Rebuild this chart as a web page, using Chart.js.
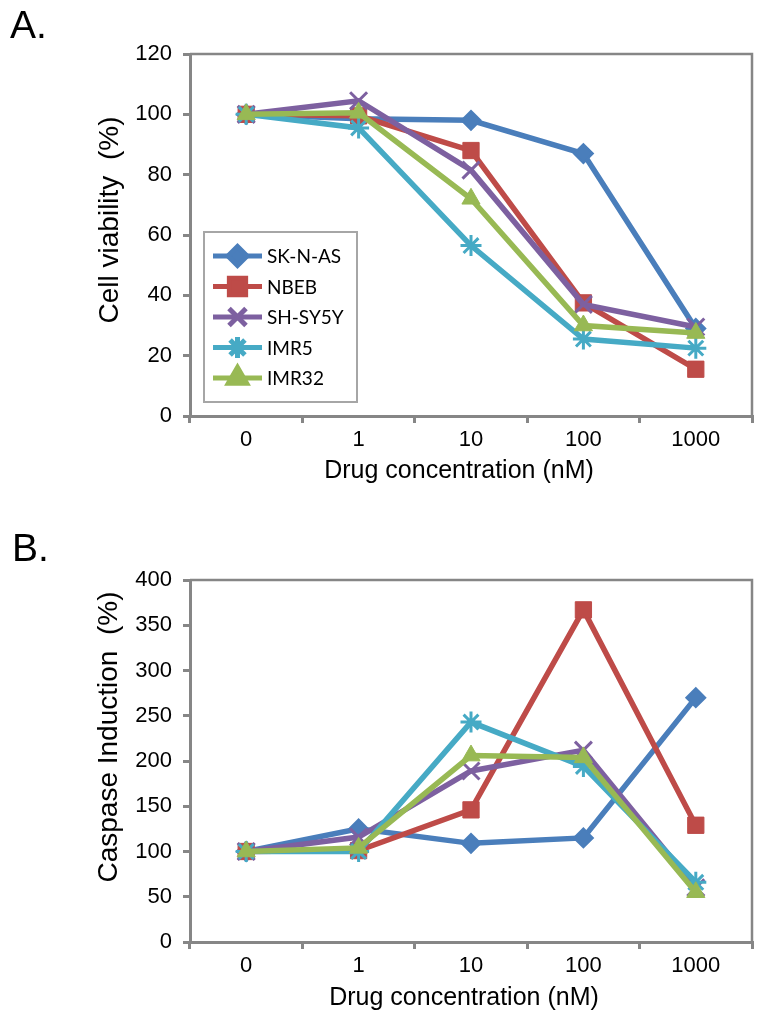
<!DOCTYPE html>
<html>
<head>
<meta charset="utf-8">
<script src="https://cdn.jsdelivr.net/npm/chart.js@4/dist/chart.umd.min.js"></script>
<style>
  body { margin: 0; background: #fff; width: 764px; height: 1021px; overflow: hidden; }
  .panel { position: absolute; left: 0; width: 764px; }
</style>
</head>
<body>
<div class="panel" style="top:0;height:490px"><canvas id="chartA" width="764" height="490"></canvas></div>
<div class="panel" style="top:490px;height:531px"><canvas id="chartB" width="764" height="531"></canvas></div>
<script>
// categories and series
const concentrations = ['0', '1', '10', '100', '1000'];
const cellLines = ['SK-N-AS', 'NBEB', 'SH-SY5Y', 'IMR5', 'IMR32'];

// A. cell viability (%)
const viabilitySKNAS = [100, 98.5, 98, 87, 29];
const viabilityNBEB = [100, 99.5, 88, 37.5, 15.5];
const viabilitySHSY5Y = [100, 104.5, 81.5, 37, 29.5];
const viabilityIMR5 = [100, 95.5, 56.5, 25.5, 22.5];
const viabilityIMR32 = [100, 100.5, 72, 30, 27.5];

// B. caspase induction (%)
const caspaseSKNAS = [100, 125, 109, 115, 270];
const caspaseNBEB = [100, 101, 146, 367, 129];
const caspaseSHSY5Y = [100, 116, 189, 212, 60];
const caspaseIMR5 = [100, 100, 243, 194, 66];
const caspaseIMR32 = [100, 104, 206, 204, 55];

const viabilityTicks = { min: 0, max: 120, step: 20 };
const caspaseTicks = { min: 0, max: 400, step: 50 };

// styling
const lineColors = ['#4A7EBB', '#BE4B48', '#7D60A0', '#46AAC5', '#98B954'];
const markerStyles = ['rectRot', 'rect', 'crossRot', 'star', 'triangle'];
const markerRadius = [9.5, 11.5, 12, 10.5, 10.5];
const markerBorder = [2, 1, 3, 3, 1];
const axisGray = '#868686';
const fontFamily = '"Liberation Sans", Arial, sans-serif';

function makeDatasets(series) {
    return cellLines.map((name, i) => ({
        label: name,
        data: series[i],
        borderColor: lineColors[i],
        backgroundColor: lineColors[i],
        borderWidth: 5.5,
        pointStyle: markerStyles[i],
        pointRadius: markerRadius[i],
        pointBorderWidth: markerBorder[i],
        pointBackgroundColor: lineColors[i],
        pointBorderColor: lineColors[i],
        tension: 0,
        order: cellLines.length - 1 - i   // later series drawn on top, like Excel
    }));
}

function drawMarker(ctx, style, radius, bw, x, y) {
    if (Chart.helpers && Chart.helpers.drawPoint) {
        Chart.helpers.drawPoint(ctx, { pointStyle: style, radius: radius, borderWidth: bw, rotation: 0 }, x, y);
    }
}

// frame, extra texts and the inset legend
const panelDecor = {
    id: 'panelDecor',
    beforeDatasetsDraw(chart, args, opts) {
        const a = chart.chartArea;
        const ctx = chart.ctx;
        ctx.save();
        ctx.strokeStyle = axisGray;
        ctx.lineWidth = 2.5;
        ctx.beginPath();
        ctx.moveTo(a.left, a.top);
        ctx.lineTo(a.right, a.top);
        ctx.lineTo(a.right, a.bottom);
        ctx.stroke();
        ctx.restore();
    },
    afterDraw(chart, args, opts) {
        const ctx = chart.ctx;
        ctx.save();
        ctx.fillStyle = '#000';
        ctx.textBaseline = 'alphabetic';

        const l = opts.letter;
        ctx.font = '39px ' + fontFamily;
        ctx.textAlign = 'left';
        ctx.fillText(l.text, l.x, l.y);

        const xt = opts.xTitle;
        ctx.font = '25px ' + fontFamily;
        ctx.textAlign = 'center';
        ctx.fillText(xt.text, xt.x, xt.y);

        const yt = opts.yTitle;
        ctx.save();
        ctx.translate(yt.x, yt.y);
        ctx.rotate(-Math.PI / 2);
        ctx.font = '28px ' + fontFamily;
        ctx.textAlign = 'center';
        ctx.fillText(yt.text, 0, 0);
        ctx.restore();

        const lg = opts.legend;
        if (lg) {
            ctx.fillStyle = '#fff';
            ctx.fillRect(lg.left, lg.top, lg.right - lg.left, lg.bottom - lg.top);
            ctx.strokeStyle = '#A6A6A6';
            ctx.lineWidth = 2;
            ctx.strokeRect(lg.left, lg.top, lg.right - lg.left, lg.bottom - lg.top);
            chart.data.datasets.forEach((ds, i) => {
                const y = lg.firstRow + i * lg.rowGap;
                ctx.strokeStyle = ds.borderColor;
                ctx.lineWidth = 5;
                ctx.beginPath();
                ctx.moveTo(lg.lineStart, y);
                ctx.lineTo(lg.lineEnd, y);
                ctx.stroke();
                ctx.fillStyle = ds.borderColor;
                drawMarker(ctx, ds.pointStyle, ds.pointRadius, ds.pointBorderWidth, (lg.lineStart + lg.lineEnd) / 2, y);
                ctx.fillStyle = '#000';
                ctx.font = '19px Lato, ' + fontFamily;
                ctx.textAlign = 'left';
                ctx.textBaseline = 'middle';
                ctx.fillText(ds.label, lg.textX, y + 1);
            });
        }
        ctx.restore();
    }
};

function makeChart(id, series, range, decor, topPad, xHeight) {
    return new Chart(document.getElementById(id), {
        type: 'line',
        data: { labels: concentrations, datasets: makeDatasets(series) },
        options: {
            responsive: false,
            animation: false,
            layout: { autoPadding: false, padding: { left: 0, top: topPad, right: 12, bottom: 0 } },
            scales: {
                x: {
                    type: 'category',
                    offset: true,
                    grid: { offset: true, drawOnChartArea: false, tickLength: 7, color: axisGray, lineWidth: 3 },
                    border: { color: axisGray, width: 3 },
                    ticks: { color: '#000', font: { family: fontFamily, size: 22 }, padding: 4, maxRotation: 0, autoSkip: false },
                    afterFit: s => { s.height = xHeight; }
                },
                y: {
                    min: range.min,
                    max: range.max,
                    grid: { drawOnChartArea: false, tickLength: 7, color: axisGray, lineWidth: 3 },
                    border: { color: axisGray, width: 3 },
                    ticks: { stepSize: range.step, color: '#000', font: { family: fontFamily, size: 22 }, padding: 11 },
                    afterFit: s => { s.width = 190; }
                }
            },
            plugins: {
                legend: { display: false },
                tooltip: { enabled: false },
                panelDecor: decor
            }
        },
        plugins: [panelDecor]
    });
}

makeChart('chartA',
    [viabilitySKNAS, viabilityNBEB, viabilitySHSY5Y, viabilityIMR5, viabilityIMR32],
    viabilityTicks,
    {
        letter: { text: 'A.', x: 10, y: 38 },
        xTitle: { text: 'Drug concentration (nM)', x: 459, y: 478 },
        yTitle: { text: 'Cell viability  (%)', x: 118, y: 220 },
        legend: { left: 204, top: 232, right: 357, bottom: 402, firstRow: 256, rowGap: 30.5, lineStart: 213, lineEnd: 262, textX: 267 }
    },
    54, 74);

makeChart('chartB',
    [caspaseSKNAS, caspaseNBEB, caspaseSHSY5Y, caspaseIMR5, caspaseIMR32],
    caspaseTicks,
    {
        letter: { text: 'B.', x: 12, y: 71 },
        xTitle: { text: 'Drug concentration (nM)', x: 464, y: 515 },
        yTitle: { text: 'Caspase Induction  (%)', x: 117, y: 247 }
    },
    90, 79);
</script>
</body>
</html>
